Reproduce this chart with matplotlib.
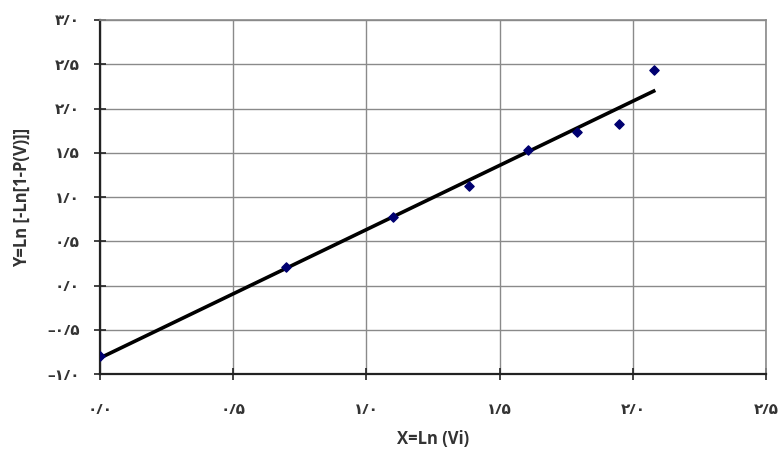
import matplotlib
matplotlib.use("Agg")
import matplotlib.pyplot as plt
import numpy as np

# データ
x_vals = [0.0, 0.697, 1.099, 1.384, 1.606, 1.790, 1.947, 2.078]
y_vals = [-0.79, 0.207, 0.773, 1.123, 1.527, 1.734, 1.820, 2.439]

x_ticks = [0.0, 0.5, 1.0, 1.5, 2.0, 2.5]
x_tick_labels = ["۰/۰", "۰/۵", "۱/۰", "۱/۵", "۲/۰", "۲/۵"]
y_ticks = [-1.0, -0.5, 0.0, 0.5, 1.0, 1.5, 2.0, 2.5, 3.0]
y_tick_labels = ["–۱/۰", "–۰/۵", "۰/۰", "۰/۵", "۱/۰", "۱/۵", "۲/۰", "۲/۵", "۳/۰"]

x_label = "X=Ln (Vi)"
y_label = "Y=Ln [-Ln[1-P(V)]]"

plt.rcParams["font.family"] = ["Open Sans", "DejaVu Sans"]

fig = plt.figure(figsize=(7.81, 4.54), dpi=100)
ax = fig.add_axes([0.128, 0.176, 0.853, 0.78])

# 線形回帰（トレンドライン）
slope, intercept = np.polyfit(x_vals, y_vals, 1)
xs = np.array([min(x_vals), max(x_vals)])
ax.plot(xs, slope * xs + intercept, color="black", lw=2.6, zorder=3)

ax.scatter(x_vals, y_vals, marker="D", s=22, color="#000070", zorder=4)

ax.set_xlim(0, 2.5)
ax.set_ylim(-1.0, 3.0)
ax.set_xticks(x_ticks)
ax.set_xticklabels(x_tick_labels, fontweight="bold")
ax.set_yticks(y_ticks)
ax.set_yticklabels(y_tick_labels, fontweight="bold")

ax.grid(True, color="#8a8a8a", lw=1.0)
ax.set_axisbelow(True)

for side in ["top", "right"]:
    ax.spines[side].set_color("#8a8a8a")
    ax.spines[side].set_linewidth(1.2)
for side in ["left", "bottom"]:
    ax.spines[side].set_color("#222222")
    ax.spines[side].set_linewidth(1.6)

ax.tick_params(axis="both", direction="inout", length=9, width=1.2,
               color="#222222", labelsize=11, labelcolor="#333333")
ax.tick_params(axis="x", pad=16)
ax.tick_params(axis="y", pad=10)

ax.set_xlabel(x_label, fontsize=12, fontweight="bold", color="#333333", labelpad=10)
ax.set_ylabel(y_label, fontsize=12, fontweight="bold", color="#333333", labelpad=12)

fig.savefig("out.png", dpi=100)
